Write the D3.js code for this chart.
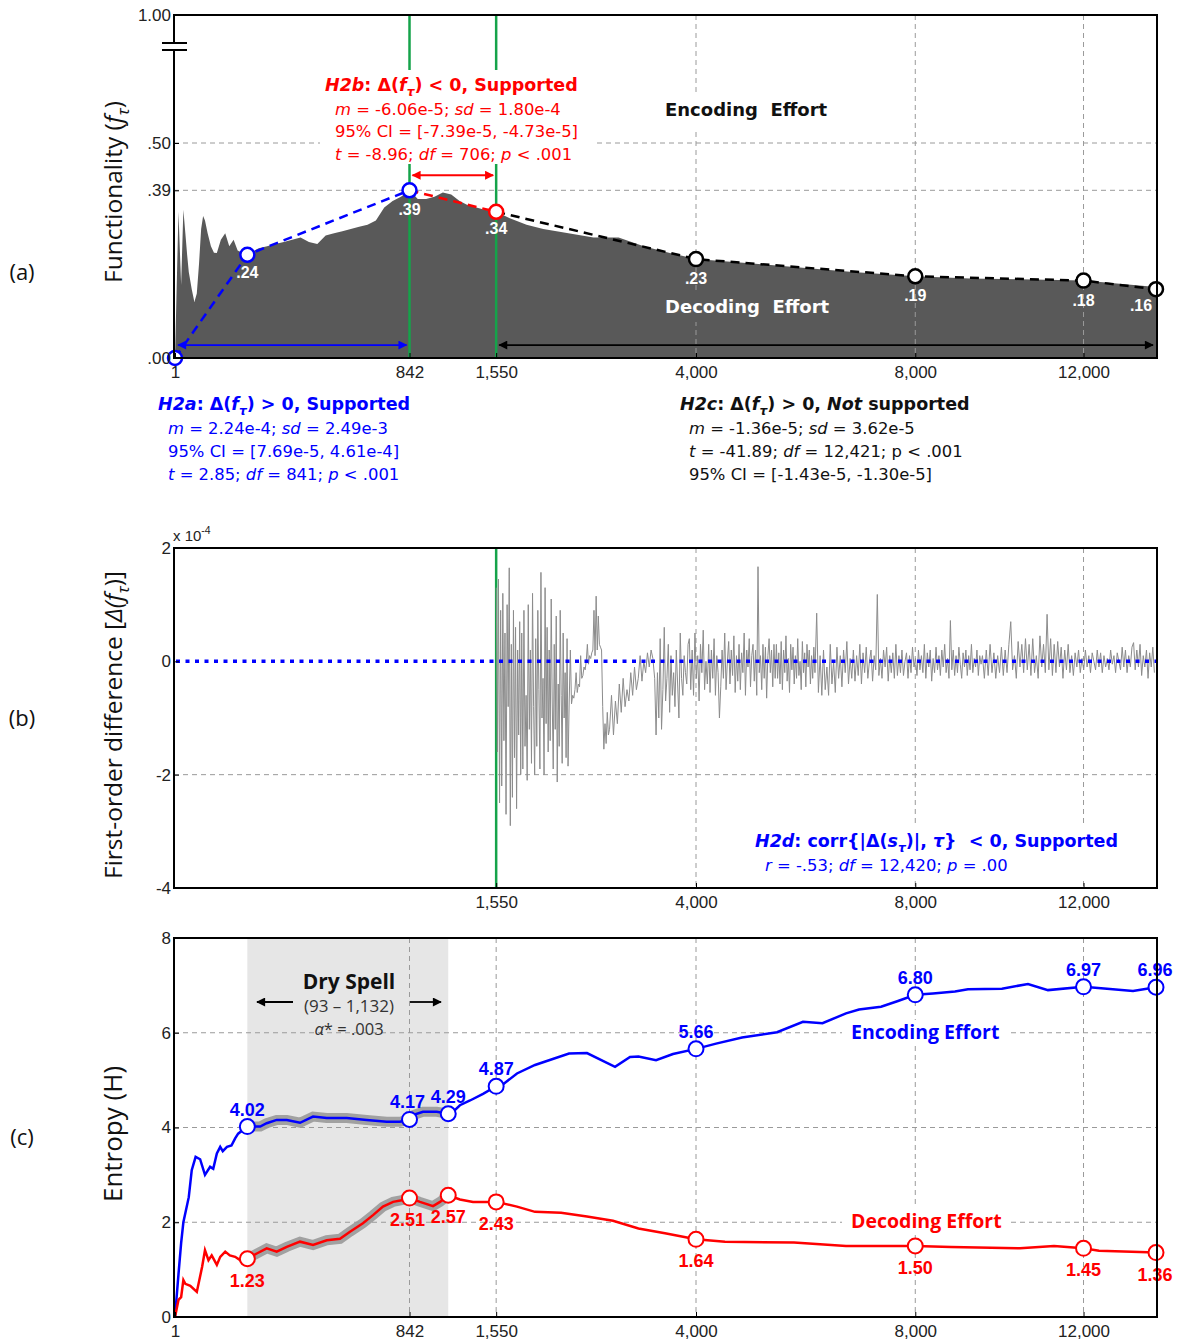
<!DOCTYPE html>
<html>
<head>
<meta charset="utf-8">
<script src="https://cdn.jsdelivr.net/npm/d3@7"></script>
<style>
  body { margin: 0; background: #fff; }
</style>
</head>
<body>
<script>
// ---------- data ----------
const tauEnd = 13972;
const xTicks = [1, 842, 1550, 4000, 8000, 12000];
const xTickLabels = ["1", "842", "1,550", "4,000", "8,000", "12,000"];

// (a) functionality
const funcTau = [1,2,3,4,5,6,7,9,11,13,15,17,19,21,24,28,32,36,42,49,56,64,72,81,93,100,121,144,169,196,225,256,289,324,361,400,441,484,529,576,625,676,729,784,842,900,961,1024,1089,1156,1225,1296,1369,1444,1550,1681,1849,2025,2304,2601,2916,3249,3600,4000,4900,5776,6724,8000,9216,10404,12000,13972];
const funcVal = [0,0.34,0.17,0.345,0.29,0.24,0.20,0.16,0.13,0.15,0.22,0.30,0.33,0.32,0.29,0.26,0.245,0.244,0.275,0.29,0.26,0.275,0.25,0.245,0.24,0.245,0.255,0.26,0.265,0.27,0.275,0.28,0.27,0.265,0.285,0.29,0.295,0.30,0.305,0.31,0.32,0.35,0.365,0.375,0.39,0.37,0.37,0.375,0.385,0.38,0.365,0.355,0.35,0.345,0.34,0.325,0.31,0.30,0.29,0.28,0.28,0.26,0.245,0.23,0.22,0.21,0.20,0.19,0.185,0.183,0.18,0.165];
const aMarkTau = [1, 93, 842, 1550, 4000, 8000, 12000, 13972];
const aMarkVal = [0, 0.24, 0.39, 0.34, 0.23, 0.19, 0.18, 0.16];
const aMarkLabels = ["", ".24", ".39", ".34", ".23", ".19", ".18", ".16"];
const aYTicks = [0, 0.39, 0.5];
const aYLabels = [".00", ".39", ".50"];

// (b) first-order difference, x 1e-4, pieces between the break points
const diffBreaks = [1551, 1800, 2300, 2700, 2800, 3400, 3900, 6000, 9500, 13972];
const diff1 = [1.3,-1.6,1.45,-2.5,0.9,-2.2,1.2,-1.4,0.5,-2.7,1.0,-0.8,1.65,-2.9,0.3,-2.4,0.9,-1.7,0.6,-2.6,0.2,-1.3,0.7,-2.0];
const diff2 = [0.5,-1.9,0.9,-1.5,-0.6,-2.1,1.0,-1.2,0.2,-1.8,1.2,-0.8,-2.0,0.4,-1.5,0.9,-0.5,-1.9,1.57,-1.0,-0.3,-2.0,1.3,-1.1,0.6,-1.6,0.2,-1.4,1.1,-0.7,-1.9,0.3,-1.2,0.8,-2.13,-0.4,-1.5,0.9,-0.6,-1.8,0.5,-1.0,-0.2,-1.7,0.4];
const diff3 = [-1.85,-0.7,0.2,-0.75,-0.6,-0.65,-0.5,-0.2,-0.55,-0.4,-0.45,0.1,-0.3,-0.25,-0.1,-0.15,0.0,0.3,-0.05,0.1,0.05,0.15,0.2,0.9,0.1,1.15,0.2,0.8,0.3,0.25];
const diff4 = [0.2,-0.8,-1.55,-1.1,-1.45,-0.9,-1.3];
const diff5 = [-1.2,-0.6,-1.3,-0.7,-1.1,-0.4,-0.9,-0.3,-0.8,-0.5,-0.7,-0.2,-0.6,-0.1,-0.5,-0.3,0.1,-0.35,0.0,-0.2,0.15,-0.1,0.2,0.05];
const diff6 = [-0.3,-1.3,-0.2,-1.0,0.4,-1.2,-0.5,0.6,-0.7,-0.3,0.3,-0.9,0.1,-0.6,-0.2,-0.8,0.2,-0.4,-1.0,0.5,-0.3,-0.6,0.1,-0.2,-0.4,0.3];
const diff7 = [0.4,-0.5,0.2,-0.6,0.5,-0.3,0.1,-0.7,0.3,-0.2,0.55,-0.5,0.0,-0.4,0.3,-0.55,0.2,-0.3,0.4,-0.6,
  0.1,-0.2,-1.0,-0.45,0.2,-0.3,0.5,-0.5,0.0,0.35,-0.4,0.2,-0.25,0.45,-0.55,0.1,-0.35,0.3,-0.5,0.15,
  -0.2,0.5,-0.6,0.2,-0.1,0.4,-0.45,0.1,0.3,-0.35,0.2,-0.6,1.67,-0.2,0.1,-0.5,0.3,-0.3,0.25,-0.65,
  0.1,0.4,-0.2,0.2,-0.45,0.3,-0.3,0.3,-0.3,0.15,-0.4,0.35,-0.5,0.2,-0.2,0.45,-0.35,0.05,-0.55,0.3,
  -0.15,0.25,-0.4,0.1,-0.3,0.4,-0.25,0.0,-0.5,0.35,-0.2,0.15,-0.45,0.3,-0.1,0.2,-0.4,0.1,-0.3,0.25];
const diff8 = [-0.2,0.85,-0.55,0.1,-0.6,0.2,-0.5,-0.1,-0.6,0.3,-0.4,0.0,-0.55,0.25,-0.3,0.1,-0.45,0.2,-0.2,0.35,
  -0.4,0.05,-0.3,0.2,-0.35,0.1,-0.25,0.3,-0.4,0.15,-0.2,0.25,-0.3,0.0,0.2,-0.35,0.1,-0.15,1.18,-0.25,
  0.05,-0.3,0.2,-0.1,0.25,-0.35,0.1,-0.2,0.15,-0.3,0.3,-0.25,0.1,-0.2,0.2,-0.25,0.0,0.15,-0.3,0.1,
  -0.2,0.25,-0.1,0.05,-0.25,0.2,-0.15,0.1,-0.2,0.3,-0.3,0.15,-0.1,0.2,-0.35,0.05,-0.2,0.25,-0.15,0.1,
  -0.25,0.2,-0.1,0.3,-0.2,0.05,-0.3,0.72,-0.15,0.2,-0.25,0.1,-0.2,0.25,-0.05,-0.3,0.15,-0.1,0.2,-0.25,
  0.1,-0.15,0.3,-0.2,0.05,-0.1,0.2,-0.25,0.1,-0.05];
const diff9 = [0.1,-0.3,0.2,-0.25,0.3,-0.2,0.15,-0.3,0.1,-0.2,0.25,-0.25,0.2,-0.2,0.3,0.7,-0.15,0.1,-0.3,0.35,
  -0.1,0.3,-0.2,0.4,-0.15,0.3,-0.25,0.4,-0.2,0.1,-0.3,0.45,-0.1,0.3,-0.2,0.83,-0.15,0.4,-0.25,0.3,
  -0.2,0.35,-0.1,0.25,-0.3,0.2,-0.15,0.3,-0.2,0.1,-0.25,0.15,-0.1,0.2,-0.2,0.05,-0.15,0.2,-0.1,0.1,
  -0.2,0.15,0.0,-0.15,0.2,-0.1,0.15,-0.2,0.1,-0.1,0.05,-0.15,0.2,-0.05,0.1,-0.2,0.15,0.0,-0.15,0.25,
  -0.1,0.2,-0.2,0.1,-0.1,0.25,0.33,-0.15,0.2,-0.1,0.3,-0.25,0.1,-0.1,0.2,-0.3,0.15,-0.1,0.25,-0.2];
const diffPieces = [diff1, diff2, diff3, diff4, diff5, diff6, diff7, diff8, diff9];
const bYTicks = [-4, -2, 0, 2];

// (c) entropy
const encTau = [1,2,3,4,7,9,12,16,21,27,31,36,41,45,52,60,67,73,93,125,143,173,206,254,306,366,463,571,691,777,842,866,938,1041,1132,1170,1228,1314,1429,1550,1586,1752,1937,2120,2311,2522,2870,3065,3178,3419,3660,4000,4309,4726,5318,5780,6140,6588,6843,7285,7635,8000,8383,8871,9166,9960,10590,11088,12000,12622,13331,13972];
const encH = [0,0.9,1.56,2.0,2.53,3.1,3.38,3.33,3.0,3.17,3.13,3.45,3.59,3.5,3.59,3.62,3.77,3.87,4.02,4.02,4.09,4.16,4.16,4.1,4.23,4.2,4.2,4.16,4.12,4.12,4.17,4.26,4.33,4.33,4.29,4.33,4.47,4.57,4.71,4.87,4.86,5.14,5.32,5.44,5.56,5.57,5.28,5.49,5.5,5.42,5.55,5.66,5.77,5.9,6.01,6.23,6.2,6.41,6.49,6.55,6.67,6.8,6.83,6.87,6.92,6.93,7.03,6.9,6.97,6.93,6.88,6.96];
const decTau = [1,2,3,4,5,8,13,18,21,25,29,36,41,49,57,67,77,93,116,143,173,206,254,306,366,429,480,550,608,668,732,798,842,916,1013,1067,1132,1228,1340,1550,1752,1937,2221,2522,2844,3178,3545,4000,4450,5618,6588,8000,8782,10394,11240,12000,12408,13972];
const decH = [0,0.36,0.42,0.78,0.7,0.66,0.53,1.06,1.41,1.2,1.3,1.1,1.27,1.38,1.3,1.27,1.2,1.23,1.34,1.45,1.38,1.48,1.59,1.52,1.62,1.65,1.8,1.98,2.15,2.33,2.43,2.47,2.51,2.43,2.34,2.43,2.57,2.48,2.43,2.43,2.33,2.22,2.2,2.12,2.03,1.87,1.77,1.64,1.59,1.57,1.5,1.5,1.48,1.45,1.5,1.45,1.4,1.36];
const cMarkTau = [93, 842, 1132, 1550, 4000, 8000, 12000, 13972];
const encMarkVal = [4.02, 4.17, 4.29, 4.87, 5.66, 6.80, 6.97, 6.96];
const decMarkVal = [1.23, 2.51, 2.57, 2.43, 1.64, 1.50, 1.45, 1.36];
const drySpell = [93, 1132];
const cYTicks = [0, 2, 4, 6, 8];

// ---------- setup ----------
const BLUE = "#0000ff", RED = "#ff0000", GREEN = "#15a34a", GRID = "#9a9a9a";
const FONT_ANN = "'DejaVu Sans', Verdana, sans-serif";
const FONT_TITLE = "'Open Sans', sans-serif";
const FONT_TICK = "'Liberation Sans', Arial, sans-serif";

const svg = d3.select("body").append("svg").attr("width", 1182).attr("height", 1343);
const defs = svg.append("defs");

const x = d3.scaleSqrt().domain([1, tauEnd]).range([175, 1156]);
const left = 174, right = 1157;
const A = {top: 15, bottom: 358}, B = {top: 548, bottom: 888}, C = {top: 938, bottom: 1317};
const ya = d3.scaleLinear().domain([0, 0.5]).range([A.bottom, 143]);
const yb = d3.scaleLinear().domain([-4, 2]).range([B.bottom, B.top]);
const yc = d3.scaleLinear().domain([0, 8]).range([C.bottom, C.top]);

function arrowHead(id, color) {
  defs.append("marker").attr("id", id).attr("viewBox", "0 0 10 10")
    .attr("refX", 9).attr("refY", 5).attr("markerWidth", 13).attr("markerHeight", 9)
    .attr("markerUnits", "userSpaceOnUse").attr("orient", "auto-start-reverse")
    .append("path").attr("d", "M0,0L10,5L0,10z").attr("fill", color);
}
arrowHead("arBlue", BLUE); arrowHead("arRed", RED); arrowHead("arBlack", "#000");

function arrow(g, x1, x2, y, color, id, both) {
  const l = g.append("line").attr("x1", x1).attr("x2", x2).attr("y1", y).attr("y2", y)
    .attr("stroke", color).attr("stroke-width", 1.8).attr("marker-end", `url(#${id})`);
  if (both) l.attr("marker-start", `url(#${id})`);
}

// text with bold / italic / subscript pieces
function rich(g, px, py, parts, size, color, family, anchor) {
  const t = g.append("text").attr("x", px).attr("y", py).attr("font-size", size)
    .attr("fill", color).attr("font-family", family).attr("text-anchor", anchor || "start")
    .style("white-space", "pre");
  let shift = 0;
  parts.forEach(([str, fl = ""]) => {
    const ts = t.append("tspan").text(str);
    if (fl.includes("b")) ts.attr("font-weight", "bold");
    if (fl.includes("i")) ts.attr("font-style", "italic");
    let target = 0;
    if (fl.includes("s")) { target = size * 0.3; ts.attr("font-size", size * 0.7); }
    if (fl.includes("u")) { target = -size * 0.45; ts.attr("font-size", size * 0.7); }
    if (target !== shift) { ts.attr("dy", target - shift); shift = target; }
  });
  return t;
}

function vGrid(g, taus, y0, y1) {
  g.selectAll(null).data(taus).join("line")
    .attr("x1", d => x(d)).attr("x2", d => x(d)).attr("y1", y0).attr("y2", y1)
    .attr("stroke", GRID).attr("stroke-width", 1).attr("stroke-dasharray", "5,4");
}
function hGrid(g, ys) {
  g.selectAll(null).data(ys).join("line")
    .attr("x1", left).attr("x2", right).attr("y1", d => d).attr("y2", d => d)
    .attr("stroke", GRID).attr("stroke-width", 1).attr("stroke-dasharray", "5,4");
}

function bottomAxis(yPos, ticks, labels) {
  const g = svg.append("g").attr("transform", `translate(0,${yPos})`)
    .call(d3.axisBottom(x).tickValues(ticks).tickFormat((d, i) => labels[i]).tickSize(-5).tickPadding(8));
  g.select(".domain").remove();
  g.attr("font-size", 17).attr("font-family", FONT_TICK);
  g.selectAll("text").attr("fill", "#222");
}
function leftAxis(scale, ticks, labels) {
  const g = svg.append("g").attr("transform", `translate(${left},0)`)
    .call(d3.axisLeft(scale).tickValues(ticks).tickFormat((d, i) => labels[i]).tickSize(-5).tickPadding(3));
  g.select(".domain").remove();
  g.attr("font-size", 17).attr("font-family", FONT_TICK);
  g.selectAll("text").attr("fill", "#222");
  return g;
}
function box(top, bottom) {
  svg.append("rect").attr("x", left).attr("y", top).attr("width", right - left).attr("height", bottom - top)
    .attr("fill", "none").attr("stroke", "#000").attr("stroke-width", 2);
}
function yTitle(yc0, xb, parts, size) {
  const t = rich(svg, 0, 0, parts, size, "#111", FONT_TITLE, "middle");
  t.attr("transform", `translate(${xb},${yc0}) rotate(-90)`);
}
function panelLetter(label, yb0) {
  svg.append("text").attr("x", 22).attr("y", yb0).attr("text-anchor", "middle")
    .attr("font-size", 22).attr("font-family", FONT_TITLE).attr("fill", "#111").text(label);
}

// ---------- panel (a) ----------
const ga = svg.append("g");
const funcData = funcTau.map((t, i) => [t, funcVal[i]]);
ga.append("path").datum(funcData)
  .attr("d", d3.area().x(d => x(d[0])).y0(A.bottom).y1(d => ya(d[1])))
  .attr("fill", "#595959");
hGrid(ga, [ya(0.39), ya(0.5)]);
vGrid(ga, [4000, 8000, 12000], A.top, A.bottom);
ga.selectAll(null).data([842, 1550]).join("line")
  .attr("x1", d => x(d)).attr("x2", d => x(d)).attr("y1", A.top).attr("y2", A.bottom)
  .attr("stroke", GREEN).attr("stroke-width", 2.5);
ga.append("rect").attr("x", 320).attr("y", 70).attr("width", 277).attr("height", 94).attr("fill", "#fff");
ga.append("rect").attr("x", 660).attr("y", 92).attr("width", 175).attr("height", 38).attr("fill", "#fff");
ga.append("rect").attr("x", 660).attr("y", 292).attr("width", 175).attr("height", 30).attr("fill", "#595959");

const aPts = aMarkTau.map((t, i) => [t, aMarkVal[i]]);
const dashLine = d3.line().x(d => x(d[0])).y(d => ya(d[1]));
[[aPts.slice(0, 3), BLUE], [aPts.slice(2, 4), RED], [aPts.slice(3), "#000"]].forEach(([pts, c]) => {
  ga.append("path").datum(pts).attr("d", dashLine).attr("fill", "none")
    .attr("stroke", c).attr("stroke-width", 2.5).attr("stroke-dasharray", "9,6");
});

arrow(ga, x(1) + 3, x(842) - 3, ya(0.03), BLUE, "arBlue", true);
arrow(ga, x(1550) + 3, x(tauEnd) - 3, ya(0.03), "#000", "arBlack", true);
arrow(ga, x(842) + 3, x(1550) - 3, ya(0.425), RED, "arRed", true);

ga.selectAll(null).data(aPts).join("circle")
  .attr("cx", d => x(d[0])).attr("cy", d => ya(d[1])).attr("r", 7)
  .attr("fill", "#fff").attr("stroke-width", 2.5)
  .attr("stroke", (d, i) => i < 3 ? BLUE : i === 3 ? RED : "#000");
ga.selectAll(null).data(aPts).join("text")
  .attr("x", (d, i) => x(d[0]) + (i === 7 ? -15 : 0))
  .attr("y", (d, i) => ya(d[1]) + (i === 1 ? 23 : i === 2 ? 25 : i === 3 ? 22 : i === 7 ? 22 : 25))
  .attr("text-anchor", "middle").attr("font-size", 16).attr("font-weight", "bold")
  .attr("font-family", FONT_TICK).attr("fill", "#fff")
  .text((d, i) => aMarkLabels[i]);

rich(svg, 325, 91, [["H2b", "bi"], [": Δ(", "b"], ["f", "bi"], ["τ", "bis"], [") < 0, Supported", "b"]], 17.5, RED, FONT_ANN);
rich(svg, 335, 115, [["m", "i"], [" = -6.06e-5; "], ["sd", "i"], [" = 1.80e-4"]], 16.4, RED, FONT_ANN);
rich(svg, 335, 137, [["95% CI = [-7.39e-5, -4.73e-5]"]], 16.4, RED, FONT_ANN);
rich(svg, 335, 160, [["t", "i"], [" = -8.96; "], ["df", "i"], [" = 706; "], ["p", "i"], [" < .001"]], 16.4, RED, FONT_ANN);
rich(svg, 665, 116, [["Encoding  Effort", "b"]], 18, "#111", FONT_ANN);
rich(svg, 665, 313, [["Decoding  Effort", "b"]], 18, "#fff", FONT_ANN);

box(A.top, A.bottom);
// broken axis mark
svg.append("rect").attr("x", 166).attr("y", 44).attr("width", 18).attr("height", 5).attr("fill", "#fff");
svg.selectAll(null).data([43, 50]).join("line")
  .attr("x1", 162).attr("x2", 187).attr("y1", d => d).attr("y2", d => d)
  .attr("stroke", "#000").attr("stroke-width", 2);
leftAxis(ya, aYTicks, aYLabels);
svg.append("text").attr("x", 171).attr("y", 21).attr("text-anchor", "end")
  .attr("font-size", 17).attr("font-family", FONT_TICK).attr("fill", "#222").text("1.00");
bottomAxis(A.bottom, xTicks, xTickLabels);
yTitle(192, 122, [["Functionality ("], ["f", "i"], ["τ", "is"], [")"]], 24.5);
panelLetter("(a)", 280);

// hypotheses under panel (a)
rich(svg, 158, 410, [["H2a", "bi"], [": Δ(", "b"], ["f", "bi"], ["τ", "bis"], [") > 0, Supported", "b"]], 17.5, BLUE, FONT_ANN);
rich(svg, 168, 434, [["m", "i"], [" = 2.24e-4; "], ["sd", "i"], [" = 2.49e-3"]], 16.4, BLUE, FONT_ANN);
rich(svg, 168, 457, [["95% CI = [7.69e-5, 4.61e-4]"]], 16.4, BLUE, FONT_ANN);
rich(svg, 168, 480, [["t", "i"], [" = 2.85; "], ["df", "i"], [" = 841; "], ["p", "i"], [" < .001"]], 16.4, BLUE, FONT_ANN);
rich(svg, 680, 410, [["H2c", "bi"], [": Δ(", "b"], ["f", "bi"], ["τ", "bis"], [") > 0, ", "b"], ["Not", "bi"], [" supported", "b"]], 17.5, "#111", FONT_ANN);
rich(svg, 689, 434, [["m", "i"], [" = -1.36e-5; "], ["sd", "i"], [" = 3.62e-5"]], 16.4, "#111", FONT_ANN);
rich(svg, 689, 457, [["t", "i"], [" = -41.89; "], ["df", "i"], [" = 12,421; p < .001"]], 16.4, "#111", FONT_ANN);
rich(svg, 689, 480, [["95% CI = [-1.43e-5, -1.30e-5]"]], 16.4, "#111", FONT_ANN);

// ---------- panel (b) ----------
const gb = svg.append("g");
hGrid(gb, [yb(-2)]);
vGrid(gb, [4000, 8000, 12000], B.top, B.bottom);
gb.append("line").attr("x1", x(1550)).attr("x2", x(1550)).attr("y1", B.top).attr("y2", B.bottom)
  .attr("stroke", GREEN).attr("stroke-width", 2.5);
const diffData = [];
diffPieces.forEach((vals, p) => {
  const t0 = diffBreaks[p], t1 = diffBreaks[p + 1];
  vals.forEach((v, j) => diffData.push([t0 + (t1 - t0) * j / vals.length, v]));
});
gb.append("path").datum(diffData)
  .attr("d", d3.line().x(d => x(d[0])).y(d => yb(d[1])))
  .attr("fill", "none").attr("stroke", "#8c8c8c").attr("stroke-width", 1);
gb.append("line").attr("x1", left + 2).attr("x2", right).attr("y1", yb(0)).attr("y2", yb(0))
  .attr("stroke", BLUE).attr("stroke-width", 3.5).attr("stroke-dasharray", "4,5.5");
gb.append("rect").attr("x", 750).attr("y", 826).attr("width", 380).attr("height", 52).attr("fill", "#fff");
rich(svg, 755, 847, [["H2d", "bi"], [": corr{|Δ(", "b"], ["s", "bi"], ["τ", "bis"], [")|, ", "b"], ["τ", "bi"], ["}  < 0, Supported", "b"]], 17.5, BLUE, FONT_ANN);
rich(svg, 765, 871, [["r", "i"], [" = -.53; "], ["df", "i"], [" = 12,420; "], ["p", "i"], [" = .00"]], 16.4, BLUE, FONT_ANN);
box(B.top, B.bottom);
leftAxis(yb, bYTicks, bYTicks.map(String));
bottomAxis(B.bottom, xTicks.slice(2), xTickLabels.slice(2));
rich(svg, 173, 541, [["x 10"], ["-4", "u"]], 15, "#222", FONT_TICK);
yTitle(725, 122, [["First-order difference ["], ["Δ(f", "i"], ["τ", "is"], [")]"]], 24.5);
panelLetter("(b)", 726);

// ---------- panel (c) ----------
const gc = svg.append("g");
gc.append("rect").attr("x", x(drySpell[0])).attr("y", C.top)
  .attr("width", x(drySpell[1]) - x(drySpell[0])).attr("height", C.bottom - C.top).attr("fill", "#e6e6e6");
hGrid(gc, [yc(2), yc(4), yc(6)]);
vGrid(gc, [842, 1550, 4000, 8000, 12000], C.top, C.bottom);
gc.append("rect").attr("x", 842).attr("y", 1020).attr("width", 168).attr("height", 26).attr("fill", "#fff");
gc.append("rect").attr("x", 842).attr("y", 1208).attr("width", 168).attr("height", 26).attr("fill", "#fff");

const encData = encTau.map((t, i) => [t, encH[i]]);
const decData = decTau.map((t, i) => [t, decH[i]]);
const hLine = d3.line().x(d => x(d[0])).y(d => yc(d[1]));
const inDry = d => d[0] >= drySpell[0] && d[0] <= drySpell[1];
[encData, decData].forEach(data => {
  gc.append("path").datum(data.filter(inDry)).attr("d", hLine).attr("fill", "none")
    .attr("stroke", "#999").attr("stroke-width", 10).attr("stroke-linecap", "round").attr("stroke-opacity", 0.9);
});
gc.append("path").datum(encData).attr("d", hLine).attr("fill", "none").attr("stroke", BLUE).attr("stroke-width", 2.5);
gc.append("path").datum(decData).attr("d", hLine).attr("fill", "none").attr("stroke", RED).attr("stroke-width", 2.5);

[[encMarkVal, BLUE, -11], [decMarkVal, RED, 28]].forEach(([vals, c, dy]) => {
  const pts = cMarkTau.map((t, i) => [t, vals[i]]);
  gc.selectAll(null).data(pts).join("circle")
    .attr("cx", d => x(d[0])).attr("cy", d => yc(d[1])).attr("r", 7.5)
    .attr("fill", "#fff").attr("stroke", c).attr("stroke-width", 2);
  gc.selectAll(null).data(pts).join("text")
    .attr("x", (d, i) => x(d[0]) + (i === 1 ? -2 : i === 7 ? -1 : 0)).attr("y", d => yc(d[1]) + dy)
    .attr("text-anchor", "middle").attr("font-size", 18).attr("font-weight", "bold")
    .attr("font-family", FONT_TICK).attr("fill", c).text(d => d[1].toFixed(2));
});

rich(svg, 349, 989, [["Dry Spell", "b"]], 21, "#111", FONT_TITLE, "middle");
rich(svg, 349, 1012, [["(93 – 1,132)"]], 17, "#333", FONT_TITLE, "middle");
rich(svg, 349, 1035, [["α", "i"], ["* = .003"]], 16.5, "#333", FONT_TITLE, "middle");
arrow(svg, 293, 257, 1002, "#000", "arBlack", false);
arrow(svg, 410, 441, 1002, "#000", "arBlack", false);
rich(svg, 851, 1039, [["Encoding Effort", "b"]], 19.5, BLUE, FONT_TITLE);
rich(svg, 851, 1228, [["Decoding Effort", "b"]], 19.5, RED, FONT_TITLE);

box(C.top, C.bottom);
leftAxis(yc, cYTicks, cYTicks.map(String));
bottomAxis(C.bottom, xTicks, xTickLabels);
yTitle(1134, 122, [["Entropy (H)"]], 26);
panelLetter("(c)", 1145);
</script>
</body>
</html>
